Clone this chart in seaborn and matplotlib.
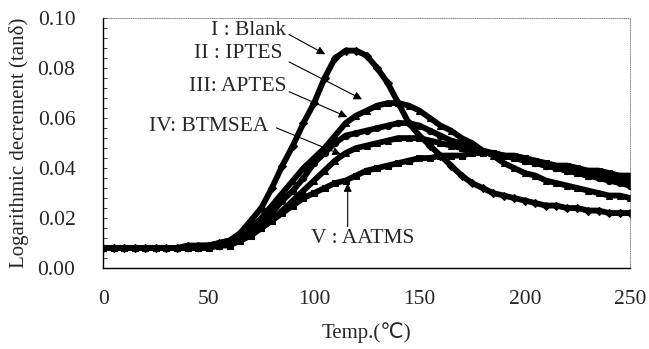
import numpy as np
import pandas as pd
import seaborn as sns
import matplotlib.pyplot as plt

# Temperature grid (deg C) and tan(delta) readings for each sample
temp = list(range(0, 255, 5))

blank = [0.008, 0.008, 0.008, 0.008, 0.008, 0.008, 0.008, 0.008, 0.009, 0.009,
         0.009, 0.010, 0.011, 0.014, 0.019, 0.024, 0.032, 0.041, 0.049, 0.058,
         0.066, 0.076, 0.084, 0.087, 0.087, 0.085, 0.080, 0.074, 0.066, 0.058,
         0.053, 0.049, 0.045, 0.041, 0.037, 0.034, 0.032, 0.030, 0.029, 0.028,
         0.027, 0.026, 0.025, 0.025, 0.024, 0.024, 0.023, 0.023, 0.022, 0.022,
         0.022]

iptes = [0.008, 0.008, 0.008, 0.008, 0.008, 0.008, 0.008, 0.008, 0.008, 0.009,
         0.009, 0.010, 0.011, 0.013, 0.016, 0.020, 0.025, 0.030, 0.035, 0.040,
         0.044, 0.048, 0.053, 0.058, 0.061, 0.063, 0.065, 0.066, 0.066, 0.065,
         0.063, 0.060, 0.057, 0.055, 0.052, 0.050, 0.047, 0.045, 0.042, 0.040,
         0.038, 0.037, 0.035, 0.034, 0.033, 0.032, 0.031, 0.030, 0.029, 0.029,
         0.028]

aptes = [0.008, 0.008, 0.008, 0.008, 0.008, 0.008, 0.008, 0.008, 0.008, 0.008,
         0.009, 0.009, 0.010, 0.012, 0.015, 0.018, 0.022, 0.027, 0.031, 0.036,
         0.042, 0.046, 0.050, 0.053, 0.054, 0.055, 0.056, 0.057, 0.058, 0.058,
         0.057, 0.055, 0.053, 0.051, 0.050, 0.048, 0.047, 0.046, 0.045, 0.044,
         0.043, 0.042, 0.041, 0.040, 0.039, 0.038, 0.037, 0.036, 0.035, 0.034,
         0.033]

btmsea = [0.008, 0.008, 0.008, 0.008, 0.008, 0.008, 0.008, 0.008, 0.008, 0.008,
          0.009, 0.009, 0.010, 0.011, 0.013, 0.016, 0.019, 0.023, 0.027, 0.031,
          0.035, 0.039, 0.043, 0.046, 0.048, 0.049, 0.050, 0.051, 0.052, 0.052,
          0.052, 0.051, 0.050, 0.049, 0.048, 0.047, 0.046, 0.046, 0.045, 0.044,
          0.043, 0.042, 0.041, 0.040, 0.039, 0.038, 0.037, 0.037, 0.036, 0.035,
          0.035]

aatms = [0.008, 0.008, 0.008, 0.008, 0.008, 0.008, 0.008, 0.008, 0.008, 0.008,
         0.008, 0.009, 0.009, 0.011, 0.013, 0.016, 0.019, 0.022, 0.025, 0.028,
         0.030, 0.032, 0.034, 0.035, 0.037, 0.039, 0.040, 0.041, 0.042, 0.043,
         0.044, 0.044, 0.045, 0.045, 0.045, 0.046, 0.046, 0.046, 0.045, 0.045,
         0.044, 0.043, 0.042, 0.041, 0.041, 0.040, 0.039, 0.039, 0.038, 0.037,
         0.037]

samples = ["I : Blank", "II : IPTES", "III: APTES", "IV: BTMSEA", "V : AATMS"]
markers = ["D", "^", "o", "^", "s"]

df = pd.concat([
    pd.DataFrame({"Temp": temp, "tan": vals, "Sample": name})
    for name, vals in zip(samples, [blank, iptes, aptes, btmsea, aatms])
], ignore_index=True)

sns.set_theme(style="white")
plt.rcParams["font.family"] = ["Liberation Serif", "DejaVu Sans"]

fig = plt.figure(figsize=(6.49, 3.49), dpi=100)
ax = fig.add_axes([0.159, 0.232, 0.812, 0.716])

sns.lineplot(data=df, x="Temp", y="tan", hue="Sample", style="Sample",
             palette=["black"] * 5, markers=markers, dashes=False,
             linewidth=4.2, markersize=4.5, markeredgecolor="black",
             legend=False, ax=ax)

ax.set_xlim(0, 250)
ax.set_ylim(0, 0.10)
ax.set_xticks([0, 50, 100, 150, 200, 250])
ax.set_yticks(np.arange(0, 0.101, 0.02))
ax.set_yticks(np.arange(0, 0.101, 0.004), minor=True)
ax.yaxis.set_major_formatter(plt.FormatStrFormatter("%.2f"))
ax.tick_params(axis="x", length=0, pad=16, labelsize=15.5)
ax.tick_params(axis="y", which="both", direction="in", length=3, width=0.6,
               pad=20, labelsize=15.5, left=True)

for side in ["top", "right"]:
    ax.spines[side].set_linewidth(0.5)
    ax.spines[side].set_linestyle(":")
    ax.spines[side].set_color("#555555")
for side in ["left", "bottom"]:
    ax.spines[side].set_linewidth(1.0)
    ax.spines[side].set_color("black")

ax.set_xlabel("Temp.(℃)", fontsize=15, labelpad=9)
ax.set_ylabel("Logarithmic decrement (tanδ)", fontsize=15, labelpad=6)

arrow = dict(arrowstyle="-|>", color="black", lw=0.8, mutation_scale=12)
label_pos = [(69, 0.095), (64, 0.086), (64, 0.0725), (50, 0.0565), (123, 0.012)]
tips = [(106.5, 0.085), (124, 0.067), (117, 0.060), (114, 0.045), (116, 0.035)]
tails = [(87, 0.094), (87, 0.083), (87, 0.071), (81, 0.0565), (116, 0.0155)]
for name, lp, tip, tail in zip(samples, label_pos, tips, tails):
    ax.text(lp[0], lp[1], name, ha="center", va="center", fontsize=15.5)
    ax.annotate("", xy=tip, xytext=tail, arrowprops=arrow)

fig.savefig("out.png", dpi=100)
